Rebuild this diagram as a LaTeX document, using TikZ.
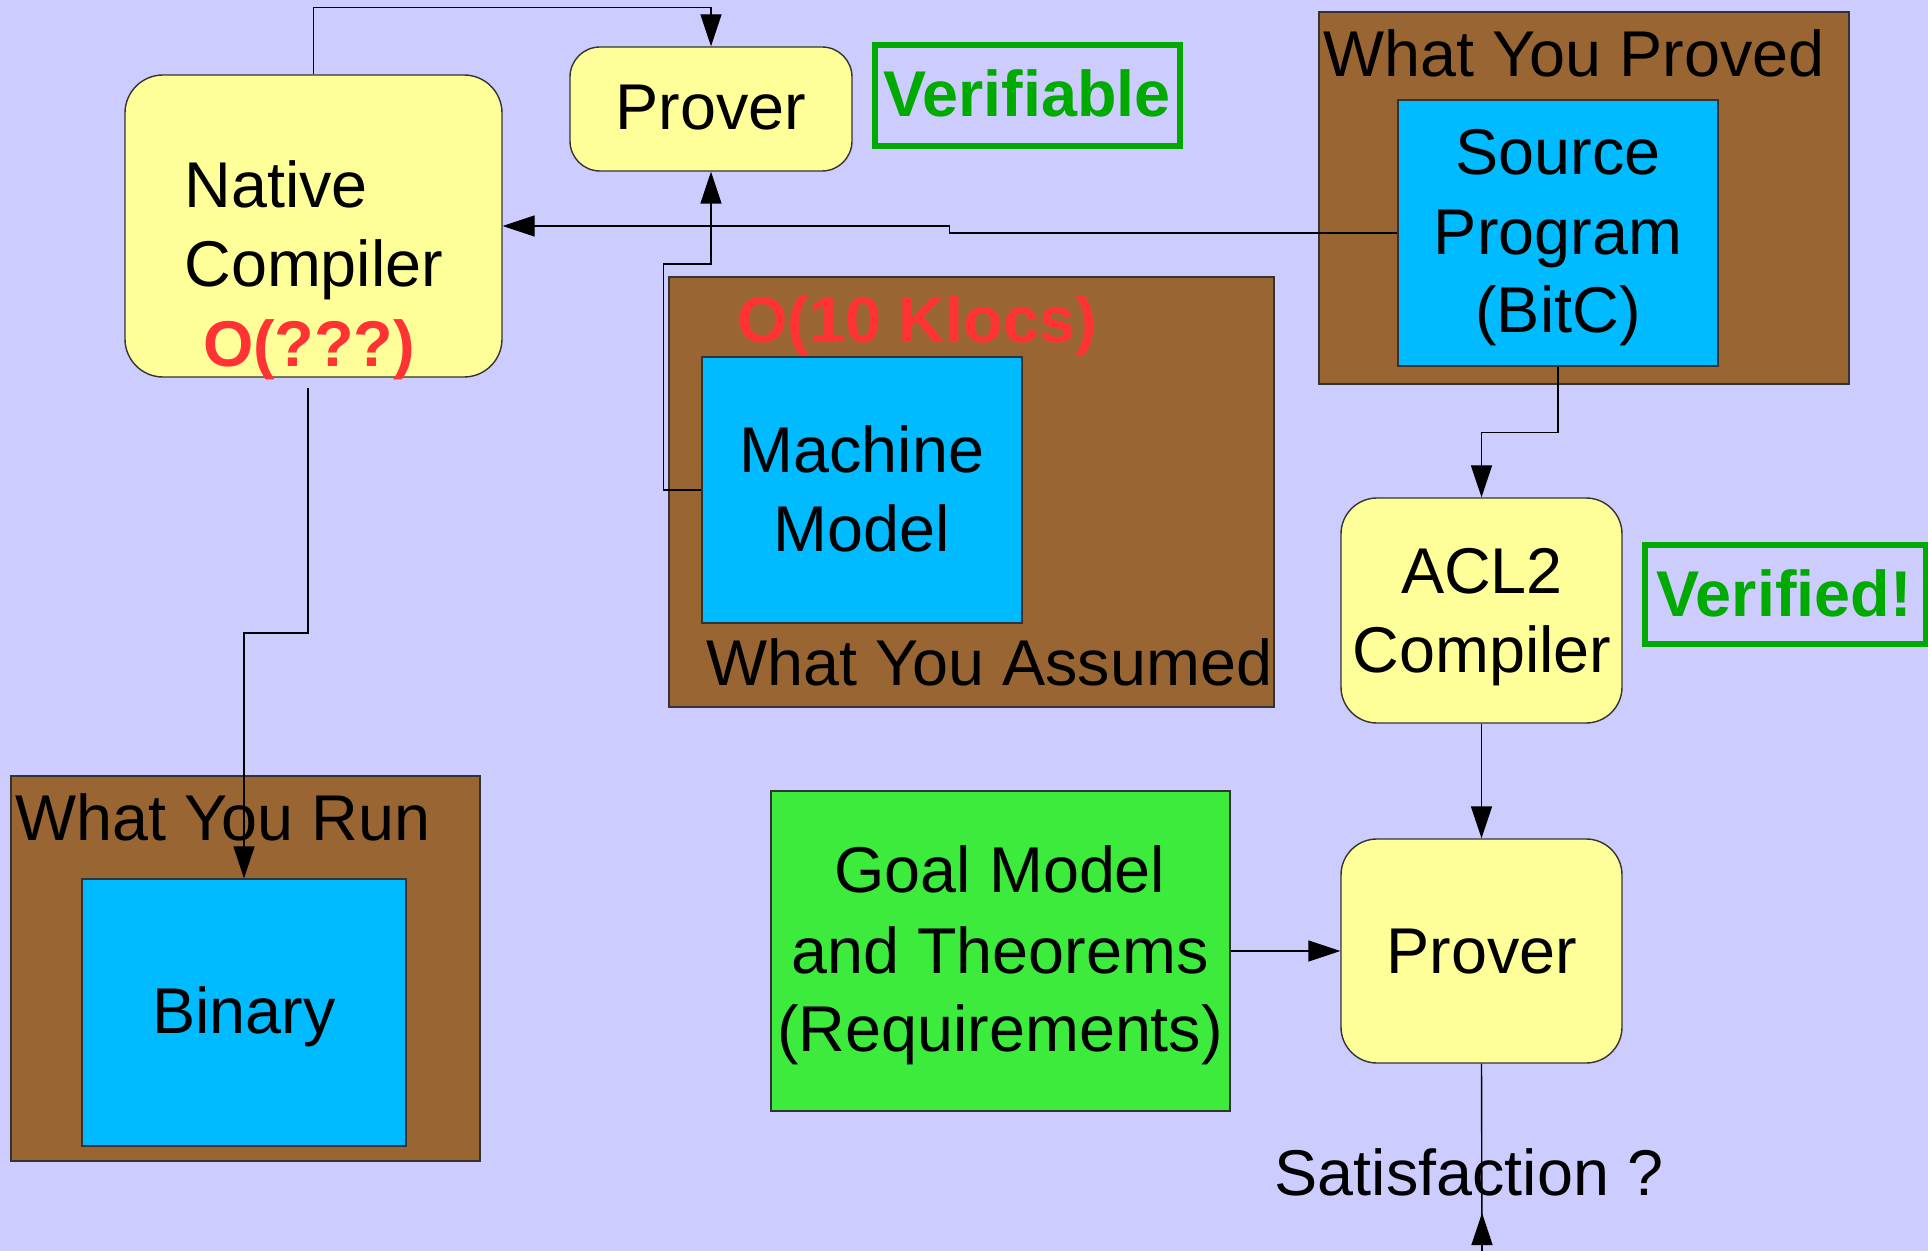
\documentclass[tikz,border=0pt]{standalone}
\usepackage{fontspec}
\setmainfont{Liberation Sans}
\usetikzlibrary{arrows.meta,fit}

\definecolor{bgcol}{HTML}{CCCCFF}
\definecolor{yellowcol}{HTML}{FFFF99}
\definecolor{browncol}{HTML}{996633}
\definecolor{bluecol}{HTML}{00BBFF}
\definecolor{goalcol}{HTML}{3CEB3C}
\definecolor{tagcol}{HTML}{00AA00}
\definecolor{warncol}{HTML}{FF3333}
\definecolor{edgecol}{HTML}{333333}

\newcommand{\labelsize}{\fontsize{32.35pt}{39.5pt}\selectfont}

\begin{document}
\begin{tikzpicture}[
  x=0.5pt, y=-0.5pt,
  box/.style={draw=edgecol, line width=0.7pt, inner sep=0pt},
  ybox/.style={box, fill=yellowcol, rounded corners=18pt},
  brownbox/.style={box, fill=browncol},
  bluebox/.style={box, fill=bluecol},
  goalbox/.style={box, fill=goalcol},
  tagbox/.style={draw=tagcol, line width=2.75pt, inner sep=0pt},
  txt/.style={inner sep=0pt, font=\labelsize},
  warn/.style={txt, text=warncol, font=\labelsize\bfseries},
  tagtxt/.style={txt, text=tagcol, font=\labelsize\bfseries},
  conn/.style={draw=black, line width=0.7pt},
  arr/.style={conn, -{Triangle[length=16pt,width=10.5pt]}}
]
% canvas
\useasboundingbox (0,0) rectangle (1928,1251);
\fill[bgcol] (0,0) rectangle (1928,1251);

% grouping frames
\node[brownbox, fit={(1319,12) (1849,384)}] (proved) {};
\node[brownbox, fit={(669,277) (1274,707)}] (assumed) {};
\node[brownbox, fit={(11,776) (480,1161)}] (run) {};

% artefacts
\node[bluebox, fit={(1398,100) (1718,366)}] (src) {};
\node[bluebox, fit={(702,357) (1022,623)}] (mm) {};
\node[bluebox, fit={(82,879) (406,1146)}] (bin) {};
\node[goalbox, fit={(771,791) (1230,1111)}] (goal) {};

% tools
\node[ybox, rounded corners=19pt, fit={(125,75) (502,377)}] (nc) {};
\node[ybox, rounded corners=15pt, fit={(570,47) (852,171)}] (p1) {};
\node[ybox, fit={(1341,498) (1622,723)}] (acl) {};
\node[ybox, fit={(1341,839) (1622,1063)}] (p2) {};

% verdict tags
\node[tagbox, fit={(875,45) (1180,146)}] (vf) {};
\node[tagbox, fit={(1645,545) (1926,644)}] (vd) {};

% labels
\node[txt, anchor=base west] (nc-a) at (184,208) {Native};
\node[txt, anchor=base west] (nc-b) at (184,287) {Compiler};
\node[warn, anchor=base] (nc-c) at (309,367) {O(???)};
\node[txt, anchor=base] (p1-t) at (711,130) {Prover};
\node[tagtxt, anchor=base] (vf-t) at (1027,117) {Verifiable};
\node[txt, anchor=base west] (proved-t) at (1323,77) {What You Proved};
\node[txt, anchor=base] (src-a) at (1558,175) {Source};
\node[txt, anchor=base] (src-b) at (1558,255) {Program};
\node[txt, anchor=base] (src-c) at (1558,333) {(BitC)};
\node[warn, anchor=base] (kl-t) at (917,343) {O(10 Klocs)};
\node[txt, anchor=base] (mm-a) at (862,473) {Machine};
\node[txt, anchor=base] (mm-b) at (862,552) {Model};
\node[txt, anchor=base west] (assumed-t) at (706,685) {What You Assumed};
\node[txt, anchor=base] (acl-a) at (1482,593) {ACL2};
\node[txt, anchor=base] (acl-b) at (1482,672) {Compiler};
\node[tagtxt, anchor=base] (vd-t) at (1784,616) {Verified!};
\node[txt, anchor=base] (p2-t) at (1482,973) {Prover};
\node[txt, anchor=base] (goal-a) at (1000,892) {Goal Model};
\node[txt, anchor=base] (goal-b) at (1000,973) {and Theorems};
\node[txt, anchor=base] (goal-c) at (1000,1051) {(Requirements)};
\node[txt, anchor=base] (sat-t) at (1469,1195) {Satisfaction ?};
\node[txt, anchor=base west] (run-t) at (15,840) {What You Run};
\node[txt, anchor=base] (bin-t) at (244,1033) {Binary};

% connector end points
\coordinate (ncout) at (308,388);
\coordinate (sat) at (1482,1251);

% connectors
\draw[arr] (nc.north) -- ++(0,-67) -| (p1.north);
\draw[arr] (src.west) -- ++(-448,0) |- (nc.east);
\draw[arr] (mm.west) -- ++(-38,0) -- ++(0,-226) -| (p1.south);
\draw[arr] (src.south) -- ++(0,66) -| (acl.north);
\draw[arr] (acl.south) -- (p2.north);
\draw[arr] (goal.east) -- (p2.west);
\draw[arr] (ncout) -- ++(0,245) -| (bin.north);
\draw[conn] (p2.south) -- (sat);
\draw[arr] (sat) -- ++(0,-38);
\end{tikzpicture}
\end{document}
